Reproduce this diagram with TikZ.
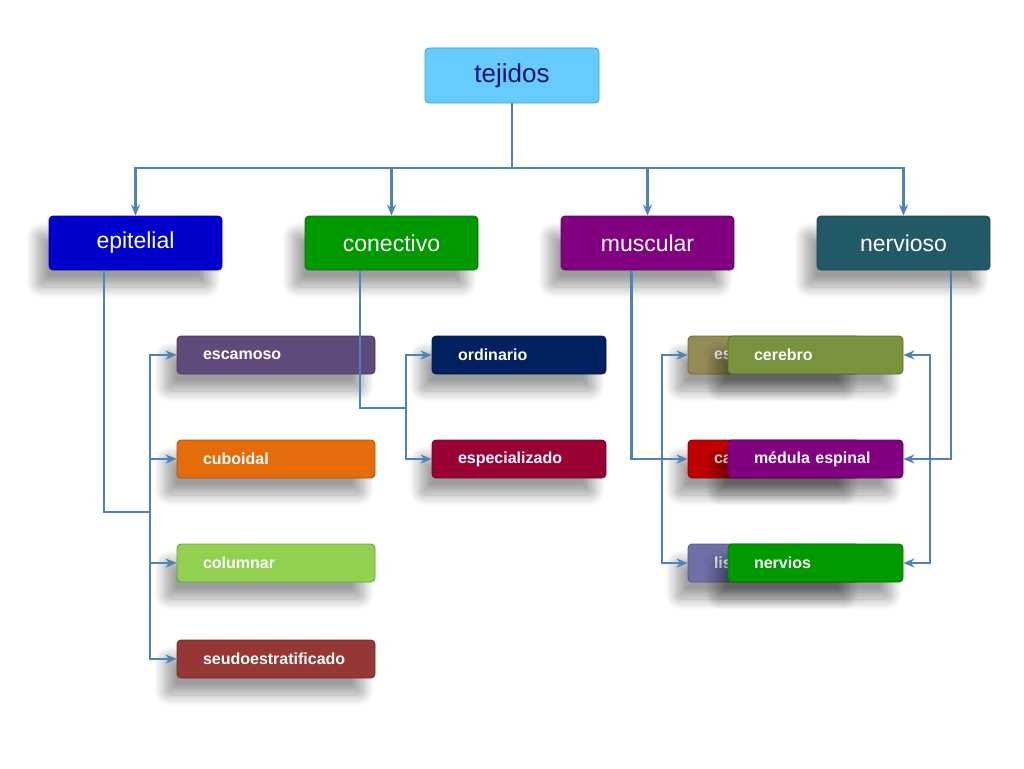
\documentclass[tikz,border=0pt]{standalone}
\usepackage{fontspec}
\setmainfont{Liberation Sans}
\usetikzlibrary{arrows.meta,shadows.blur}
\definecolor{linkc}{HTML}{4F81BD}
\definecolor{tejc}{HTML}{66CCFF}
\definecolor{tejt}{HTML}{10106E}
\definecolor{epic}{HTML}{0000CC}
\definecolor{conc}{HTML}{009900}
\definecolor{musc}{HTML}{800080}
\definecolor{nerc}{HTML}{215967}
\definecolor{escc}{HTML}{604A7B}
\definecolor{cubc}{HTML}{E46C0A}
\definecolor{colc}{HTML}{92D050}
\definecolor{seuc}{HTML}{953735}
\definecolor{ordc}{HTML}{002060}
\definecolor{espc}{HTML}{990033}
\definecolor{esqc}{HTML}{948A54}
\definecolor{carc}{HTML}{C00000}
\definecolor{lisc}{HTML}{7070A8}
\definecolor{cerc}{HTML}{77933C}
\begin{document}
\begin{tikzpicture}[x=1pt,y=-1pt,
    flat/.style={fill=#1, draw=#1!75!black, line width=0.8pt, rounded corners=4pt},
    box/.style={flat=#1,
      blur shadow={shadow xshift=-12pt, shadow yshift=-17pt, shadow blur radius=11pt,
        shadow blur steps=20, shadow opacity=38}},
    topbox/.style={flat=#1, minimum width=174pt, minimum height=55pt, inner sep=0pt,
      text=tejt, font=\fontsize{26}{28}\selectfont},
    mainbox/.style={box=#1, minimum width=173pt, minimum height=54pt, inner sep=0pt,
      text=white, font=\fontsize{23}{26}\selectfont},
    subbox/.style={box=#1, minimum height=38pt, inner ysep=0pt, inner xsep=26pt,
      align=left, text=white, font=\bfseries\fontsize{16}{18}\selectfont},
    line/.style={draw=linkc, line width=2.8pt},
    arrow/.style={line, -{Stealth[length=11pt,width=9pt]}}]
  \useasboundingbox (0,0) rectangle (1024,768);
  \node[topbox=tejc] (tej) at (512,75.5) {tejidos};
  \node[mainbox=epic] (epi) at (135.5,243) {epitelial};
  \node[mainbox=conc] (con) at (391.5,243) {conectivo};
  \node[mainbox=musc] (mus) at (647.5,243) {muscular};
  \node[mainbox=nerc] (ner) at (903.5,243) {nervioso};
  % epitelial
  \node[subbox=escc, text width=146pt] (esc) at (276,355) {escamoso};
  \node[subbox=cubc, text width=146pt] (cub) at (276,459) {cuboidal};
  \node[subbox=colc, text width=146pt] (col) at (276,563) {columnar};
  \node[subbox=seuc, text width=146pt] (seu) at (276,659) {seudoestratificado};
  % conectivo
  \node[subbox=ordc, text width=122pt] (ord) at (519,355) {ordinario};
  \node[subbox=espc, text width=122pt] (esp) at (519,459) {especializado};
  % muscular, mostly hidden
  \node[subbox=esqc, text width=120pt] (esq) at (774,355) {es};
  \node[subbox=carc, text width=120pt] (car) at (774,459) {ca};
  \node[subbox=lisc, text width=120pt] (lis) at (774,563) {lis};
  % nervioso
  \node[subbox=cerc, text width=123pt] (cer) at (815.5,355) {cerebro};
  \node[subbox=musc, text width=123pt] (med) at (815.5,459) {médula espinal};
  \node[subbox=conc, text width=123pt] (nerv) at (815.5,563) {nervios};
  % connectors
  \coordinate (hub) at (512,168);
  \coordinate (epibus) at (150,512);
  \coordinate (conbus) at (406,408);
  \coordinate (musbus) at (662,459);
  \coordinate (nerbus) at (930,459);
  \draw[line] (tej) -- (hub);
  \foreach \n in {epi,con,mus,ner}
    \draw[arrow] (hub) -| (\n);
  \draw[line] ([xshift=-31.5pt]epi.south) |- (epibus);
  \foreach \n in {esc,cub,col,seu}
    \draw[arrow] (epibus) |- (\n);
  \draw[line] ([xshift=-31.5pt]con.south) |- (conbus);
  \foreach \n in {ord,esp}
    \draw[arrow] (conbus) |- (\n);
  \draw[arrow] ([xshift=-16pt]mus.south) |- (car);
  \foreach \n in {esq,lis}
    \draw[arrow] (musbus) |- (\n);
  \draw[arrow] ([xshift=47.5pt]ner.south) |- (med);
  \foreach \n in {cer,nerv}
    \draw[arrow] (nerbus) |- (\n);
\end{tikzpicture}
\end{document}
